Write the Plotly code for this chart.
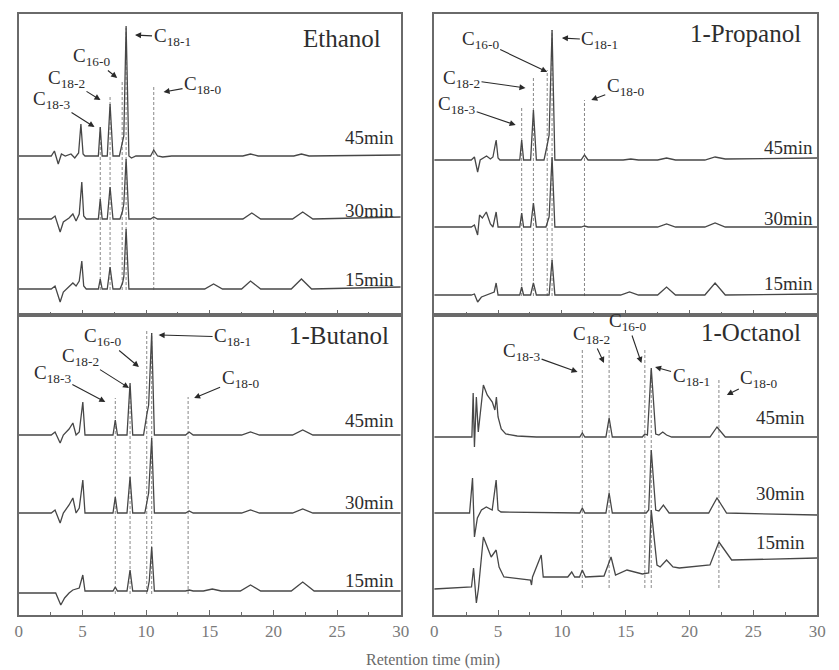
import plotly.graph_objects as go

# ---------------- DATA (retention time in min, signal in arbitrary units) ----------------
# Baseline offsets of the stacked chromatograms in each panel (45, 30, 15 min)
eth_offsets = [159, 96, 26]
prop_offsets = [155, 88, 20]
but_offsets = [180, 102, 22]
oct_offsets = [178, 102, 28]

# Ethanol
eth45_t = [0, 2.55, 2.8, 3.1, 3.35, 3.65, 4.1, 4.4, 4.7, 4.88, 5.05, 5.2, 6.25, 6.4, 6.55, 6.95, 7.17, 7.4, 7.9, 8.12, 8.25, 8.43, 8.65, 8.85, 9.2, 10.35, 10.6, 10.9, 11.3, 12.0, 17.6, 18.2, 18.8, 21.6, 22.2, 22.8, 30]
eth45_i = [0, 0, 5, -8, 2, 0, 2, -2, 3, 32, 2, 0, 0, 29, 0, 0, 52, 0, 0, 12, 20, 130, 0, -2, 0, 0, 6, 0, -1, 0, 0, 2, 0, 0, 2, 0, 1]
eth30_t = [0, 2.55, 2.85, 3.25, 3.5, 3.95, 4.25, 4.5, 4.75, 4.95, 5.1, 5.3, 6.25, 6.4, 6.55, 6.95, 7.17, 7.4, 7.95, 8.15, 8.25, 8.43, 8.65, 9.0, 10.35, 10.6, 10.9, 17.6, 18.3, 19.0, 21.5, 22.3, 23.1, 30]
eth30_i = [0, 0, 3, -13, -3, 1, 5, -2, 5, 37, 3, 0, 0, 20, 0, 0, 32, 0, 0, 8, 15, 60, 0, 0, 0, 2, 0, 0, 6, 0, 0, 7, 0, 2]
eth15_t = [0, 2.55, 2.85, 3.25, 3.5, 3.95, 4.25, 4.5, 4.75, 4.95, 5.1, 5.3, 6.25, 6.4, 6.55, 6.95, 7.17, 7.4, 7.95, 8.15, 8.25, 8.43, 8.65, 9.0, 14.6, 15.3, 16.0, 17.5, 18.2, 19.0, 21.4, 22.2, 23.0, 30]
eth15_i = [0, 0, 3, -13, -3, 3, 6, 3, 8, 28, 3, 0, 0, 10, 0, 0, 22, 0, 0, 6, 12, 60, 0, 0, 0, 5, 0, 0, 8, 0, 0, 10, 0, 2]
eth_marker_t = [6.4, 7.17, 8.12, 8.43, 10.6]
eth_marker_top = [190, 220, 235, 287, 230]

# 1-Propanol
prop45_t = [0, 2.9, 3.15, 3.4, 3.6, 4.1, 4.4, 4.6, 4.85, 5.0, 5.15, 6.7, 6.85, 7.0, 7.55, 7.77, 8.0, 8.6, 8.85, 9.0, 9.23, 9.45, 9.7, 11.5, 11.77, 12.05, 14.8, 15.4, 16.0, 17.5, 18.2, 18.9, 21.2, 22.0, 22.8, 30]
prop45_i = [0, 0, 3, -12, 0, 4, 1, 3, 20, 2, 0, 0, 20, 0, 0, 50, 0, 0, 15, 25, 130, 0, 0, 0, 5, 0, 0, 1, 0, 0, 2, 0, 0, 3, 1, 2]
prop30_t = [0, 2.9, 3.15, 3.4, 3.55, 3.77, 4.08, 4.4, 4.6, 4.85, 5.0, 5.15, 6.7, 6.85, 7.0, 7.55, 7.77, 8.0, 8.75, 9.0, 9.23, 9.45, 9.7, 11.5, 11.77, 12.05, 17.5, 18.2, 18.9, 21.2, 22.0, 22.8, 30]
prop30_i = [0, 0, 2, -8, 12, 9, 15, 3, 0, 15, 0, 0, 0, 14, 0, 0, 24, 0, 0, 10, 70, 0, 0, 0, 1, 0, 0, 3, 0, 0, 4, 0, 0]
prop15_t = [0, 2.9, 3.15, 3.4, 3.7, 4.5, 4.7, 4.85, 5.0, 5.2, 6.7, 6.85, 7.0, 7.55, 7.77, 8.0, 9.0, 9.23, 9.45, 9.7, 14.6, 15.3, 16.0, 17.5, 18.2, 18.9, 21.2, 22.0, 22.8, 30]
prop15_i = [0, 0, 1, -7, -2, 2, 3, 12, 0, 0, 0, 8, 0, 0, 12, 0, 0, 35, 0, 0, 0, 3, 0, 0, 8, 0, 0, 12, 0, 1]
prop_marker_t = [6.85, 7.77, 8.85, 9.23, 11.77]
prop_marker_top = [207, 237, 245, 285, 215]

# 1-Butanol
but45_t = [0, 2.55, 2.85, 3.25, 3.5, 3.95, 4.25, 4.5, 4.75, 5.03, 5.2, 7.4, 7.58, 7.75, 8.5, 8.74, 8.95, 9.8, 10.05, 10.2, 10.44, 10.65, 10.9, 13.1, 13.38, 13.7, 17.5, 18.2, 18.9, 21.5, 22.3, 23.1, 30]
but45_i = [0, 0, 3, -8, 0, 6, 12, 0, 3, 33, 0, 0, 15, 0, 0, 52, 0, 0, 20, 30, 102, 0, 0, 0, 3, 0, 0, 3, 0, 0, 5, 0, 0]
but30_t = [0, 2.55, 2.85, 3.25, 3.5, 3.95, 4.25, 4.5, 4.75, 5.03, 5.2, 7.4, 7.58, 7.75, 8.5, 8.74, 8.95, 9.9, 10.05, 10.2, 10.44, 10.65, 10.9, 13.1, 13.38, 13.7, 17.5, 18.2, 18.9, 21.5, 22.3, 23.1, 30]
but30_i = [0, 0, 3, -10, 0, 8, 15, 0, 5, 33, 0, 0, 16, 0, 0, 36, 0, 0, 10, 20, 75, 0, 0, 0, 2, 0, 0, 3, 0, 0, 4, 0, 0]
but15_t = [0, 2.55, 2.9, 3.3, 3.6, 3.95, 4.25, 4.75, 5.03, 5.2, 7.4, 7.58, 7.75, 8.5, 8.74, 8.95, 10.1, 10.25, 10.44, 10.65, 10.9, 13.1, 13.38, 13.7, 14.5, 15.2, 15.9, 17.4, 18.2, 19.0, 21.4, 22.3, 23.2, 30]
but15_i = [0, 0, 0, -12, -5, 0, 3, 5, 18, 2, 2, 6, 2, 2, 23, 2, 2, 12, 46, 2, 2, 2, 3, 2, 2, 4, 2, 2, 8, 2, 2, 11, 2, 2]
but_marker_t = [7.58, 8.74, 10.05, 10.44, 13.3]
but_marker_top = [217, 230, 285, 282, 218]

# 1-Octanol
oct45_t = [0, 2.8, 2.95, 3.05, 3.15, 3.3, 3.45, 3.85, 4.15, 4.55, 4.75, 4.87, 5.0, 5.25, 5.6, 6.5, 8.0, 11.4, 11.6, 11.8, 13.45, 13.7, 13.95, 16.3, 16.5, 16.7, 17.0, 17.35, 17.6, 17.9, 18.2, 18.6, 21.6, 22.15, 22.8, 30]
oct45_i = [0, 0, 0, 44, -10, 40, 5, 52, 42, 35, 27, 40, 20, 8, 3, 1, 0, 0, 4, 0, 0, 19, 0, 0, 3, 2, 69, 3, 2, 5, 2, 0, 0, 10, 0, 0]
oct30_t = [0, 2.77, 3.0, 3.15, 3.38, 3.7, 4.08, 4.54, 4.85, 5.0, 5.23, 11.4, 11.6, 11.8, 13.45, 13.7, 13.95, 16.6, 16.8, 17.0, 17.35, 17.6, 17.95, 18.4, 21.5, 22.15, 22.9, 30]
oct30_i = [0, 0, 35, -24, -5, 3, 6, 3, 33, 3, 1, 0, 5, 0, 0, 20, 0, 0, 3, 63, 3, 2, 8, 0, 0, 15, 0, -2]
oct15_t = [0, 2.92, 3.08, 3.23, 3.3, 3.46, 3.85, 4.46, 4.85, 5.08, 5.46, 7.54, 7.62, 7.7, 8.38, 8.54, 10.46, 10.77, 11.0, 11.38, 11.6, 11.85, 13.3, 13.85, 14.2, 15.1, 16.3, 16.8, 17.0, 17.45, 17.7, 18.2, 18.7, 19.2, 21.6, 22.3, 23.3, 30]
oct15_i = [-2, 0, 19, 0, -16, -2, 50, 30, 37, 20, 10, 7, 2, 10, 32, 10, 10, 15, 10, 10, 17, 10, 11, 30, 12, 17, 13, 14, 77, 22, 20, 27, 20, 19, 22, 45, 27, 29]
oct_marker_t = [11.6, 13.7, 16.5, 17.0, 22.3]
oct_marker_top = [265, 265, 265, 247, 235]

time_labels = ["45min", "30min", "15min"]
peak_names = ["C<sub>18-3</sub>", "C<sub>18-2</sub>", "C<sub>16-0</sub>", "C<sub>18-1</sub>", "C<sub>18-0</sub>"]
panel_names = ["Ethanol", "1-Propanol", "1-Butanol", "1-Octanol"]
x_ticks = [0, 5, 10, 15, 20, 25, 30]

# ---------------- FIGURE ----------------
W, H = 839, 670
LINE = "#474747"
TEXT = "#2e2e2e"
FONT = "Liberation Serif"

fig = go.Figure()

def px_x(a, b):
    return [a / W, b / W]

def px_y(top, bottom):
    return [1 - bottom / H, 1 - top / H]

panels = [
    ("x", "y", px_x(15, 403), px_y(14, 315), False),
    ("x2", "y2", px_x(437, 826), px_y(14, 315), False),
    ("x3", "y3", px_x(15, 403), px_y(315, 615), True),
    ("x4", "y4", px_x(437, 826), px_y(315, 615), True),
]

for i, (xa, ya, xd, yd, labels) in enumerate(panels):
    xk = "xaxis" if xa == "x" else "xaxis" + xa[1:]
    yk = "yaxis" if ya == "y" else "yaxis" + ya[1:]
    fig.update_layout(**{
        xk: dict(domain=xd, anchor=ya, range=[0, 30], showgrid=False, zeroline=False,
                 showline=True, mirror=True, linecolor="#6a6a6a", linewidth=1.5,
                 ticks="inside", tickvals=x_ticks, ticklen=5, tickcolor="#6a6a6a",
                 minor=dict(ticks="inside", dtick=2.5, ticklen=3, tickcolor="#6a6a6a"),
                 showticklabels=labels,
                 tickfont=dict(family=FONT, size=17, color="#7a7a7a")),
        yk: dict(domain=yd, anchor=xa, range=[0, 301 if i < 2 else 300], showgrid=False,
                 zeroline=False, showline=True, mirror=True, linecolor="#6a6a6a",
                 linewidth=1.5, ticks="", showticklabels=False),
    })

def add_chrom(t, inten, offset, xa, ya):
    fig.add_trace(go.Scatter(x=t, y=[offset + v for v in inten], mode="lines",
                             line=dict(color=LINE, width=1.3), xaxis=xa, yaxis=ya,
                             showlegend=False, hoverinfo="skip"))

def add_markers(mt, mtop, bottom, xa, ya):
    xs, ys = [], []
    for t, top in zip(mt, mtop):
        xs += [t, t, None]
        ys += [bottom, top, None]
    fig.add_trace(go.Scatter(x=xs, y=ys, mode="lines",
                             line=dict(color="#6a6a6a", width=0.8, dash="3px,2px"),
                             xaxis=xa, yaxis=ya, showlegend=False, hoverinfo="skip"))

datasets = [
    ([(eth45_t, eth45_i), (eth30_t, eth30_i), (eth15_t, eth15_i)], eth_offsets, eth_marker_t, eth_marker_top, "x", "y"),
    ([(prop45_t, prop45_i), (prop30_t, prop30_i), (prop15_t, prop15_i)], prop_offsets, prop_marker_t, prop_marker_top, "x2", "y2"),
    ([(but45_t, but45_i), (but30_t, but30_i), (but15_t, but15_i)], but_offsets, but_marker_t, but_marker_top, "x3", "y3"),
    ([(oct45_t, oct45_i), (oct30_t, oct30_i), (oct15_t, oct15_i)], oct_offsets, oct_marker_t, oct_marker_top, "x4", "y4"),
]

for traces, offs, mt, mtop, xa, ya in datasets:
    add_markers(mt, mtop, offs[2] - 1, xa, ya)
    for (t, inten), off in zip(traces, offs):
        add_chrom(t, inten, off, xa, ya)

ann = []

title_pos = [(28.6, 277, "x", "y"), (28.9, 282, "x2", "y2"), (29.2, 280, "x3", "y3"), (28.85, 283, "x4", "y4")]
for name, (tx, ty, xa, ya) in zip(panel_names, title_pos):
    ann.append(dict(text=name, x=tx, y=ty, xref=xa, yref=ya, xanchor="right", yanchor="middle",
                    showarrow=False, font=dict(family=FONT, size=25, color=TEXT)))

time_pos = [
    (29.6, [178, 105, 36], "x", "y"),
    (29.85, [168, 97, 32], "x2", "y2"),
    (29.6, [195, 113, 35], "x3", "y3"),
    (29.2, [198, 122, 73], "x4", "y4"),
]
for tx, tys, xa, ya in time_pos:
    for lab, ty in zip(time_labels, tys):
        ann.append(dict(text=lab, x=tx, y=ty, xref=xa, yref=ya, xanchor="right", yanchor="middle",
                        showarrow=False, font=dict(family=FONT, size=19, color=TEXT)))

peak_ann = [
    ("x", "y", [(5.95, 188, -43, -27), (6.42, 215, -34, -21), (7.73, 237, -26, -21), (9.13, 280, 37, 2), (11.37, 223, 39, -7)]),
    ("x2", "y2", [(6.38, 190, -59, -20), (7.15, 227, -64, -9), (8.85, 243, -67, -32), (10.0, 277, 38, 2), (12.3, 215, 34, -13)]),
    ("x3", "y3", [(6.8, 213, -53, -28), (8.66, 227, -49, -31), (9.44, 248, -36, -30), (10.98, 280, 74, 2), (13.77, 217, 46, -19)]),
    ("x4", "y4", [(11.23, 243, -56, -20), (13.3, 252, -13, -28), (16.23, 252, -14, -41), (17.3, 248, 36, 10), (22.92, 220, 32, -16)]),
]
for xa, ya, items in peak_ann:
    for name, (hx, hy, ax, ay) in zip(peak_names, items):
        ann.append(dict(text=name, x=hx, y=hy, xref=xa, yref=ya, ax=ax, ay=ay,
                        showarrow=True, arrowhead=2, arrowsize=1.1, arrowwidth=1.1,
                        arrowcolor="#2a2a2a", standoff=0,
                        font=dict(family=FONT, size=19, color=TEXT)))

ann.append(dict(text="Retention time (min)", x=436 / W, y=1 - 660 / H, xref="paper", yref="paper",
                xanchor="center", yanchor="middle", showarrow=False,
                font=dict(family=FONT, size=16, color="#6a6a6a")))

fig.update_layout(width=W, height=H, margin=dict(l=0, r=0, t=0, b=0),
                  paper_bgcolor="white", plot_bgcolor="rgba(0,0,0,0)",
                  annotations=ann, showlegend=False)

fig.write_html("out.html")
